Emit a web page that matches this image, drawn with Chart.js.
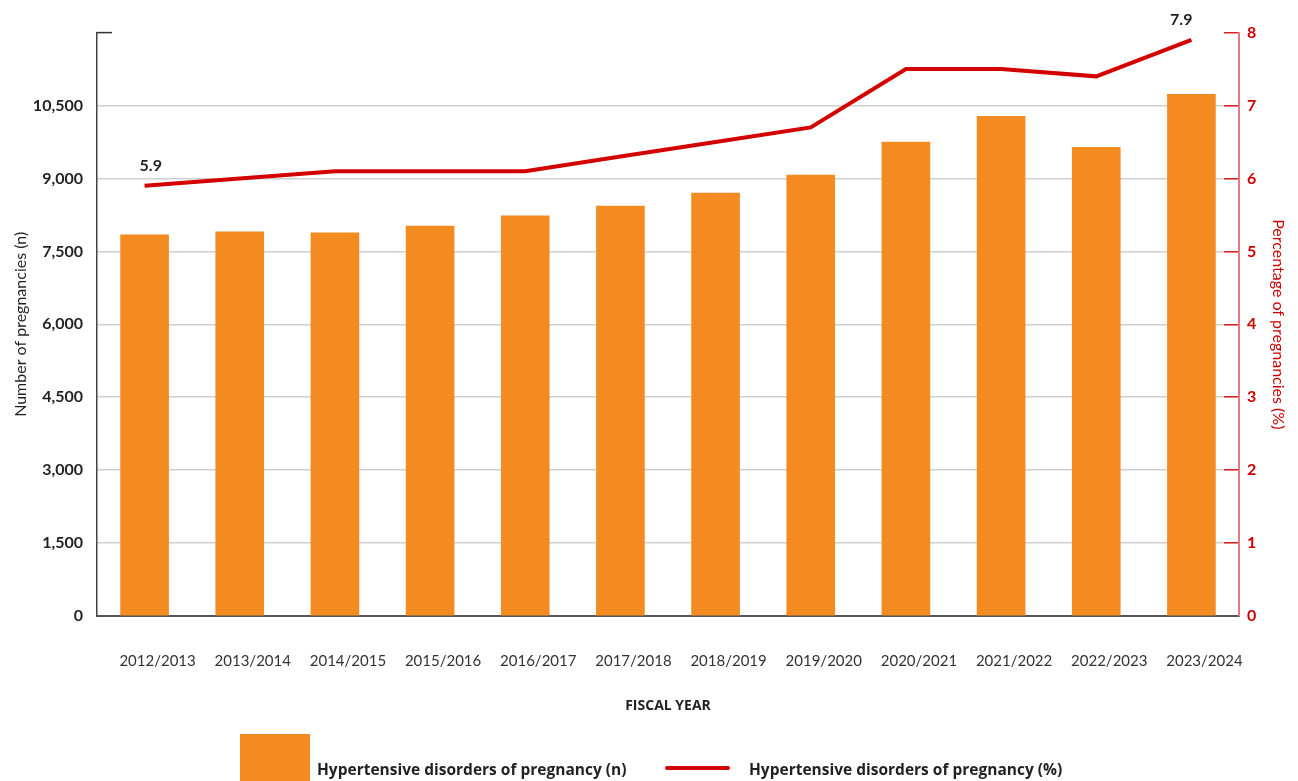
<!DOCTYPE html>
<html>
<head>
<meta charset="utf-8">
<script src="https://cdn.jsdelivr.net/npm/chart.js@4/dist/chart.umd.min.js"></script>
<style>
	body { margin: 0; background: #fff; }
	#wrap { position: relative; width: 1298px; height: 781px; font-family: Lato, 'Open Sans', sans-serif; color: #231f20; }
	#hdpChart { position: absolute; left: 0; top: 0; }
	.legend-box { position: absolute; left: 240px; top: 734px; width: 70px; height: 47px; background: #f48b21; }
	.legend-line { position: absolute; left: 665px; top: 766px; width: 65px; height: 4px; border-radius: 2px; background: #d40000; }
	.legend-text { position: absolute; top: 759px; font-family: 'Open Sans', sans-serif; font-size: 15.5px; font-weight: 700; line-height: 20px; white-space: nowrap; }
</style>
</head>
<body>
<div id="wrap">
	<canvas id="hdpChart" width="1298" height="781"></canvas>
	<div class="legend-box"></div>
	<div class="legend-text" style="left:317px">Hypertensive disorders of pregnancy (n)</div>
	<div class="legend-line"></div>
	<div class="legend-text" style="left:749px">Hypertensive disorders of pregnancy (%)</div>
</div>
<script>
const fiscalYears = ['2012/2013', '2013/2014', '2014/2015', '2015/2016', '2016/2017', '2017/2018',
	'2018/2019', '2019/2020', '2020/2021', '2021/2022', '2022/2023', '2023/2024'];
const pregnancyCounts = [7840, 7900, 7880, 8020, 8230, 8430, 8700, 9070, 9750, 10280, 9640, 10730];
const pregnancyPercent = [5.9, 6.0, 6.1, 6.1, 6.1, 6.3, 6.5, 6.7, 7.5, 7.5, 7.4, 7.9];
const countAxis = { min: 0, max: 12000, step: 1500 };
const percentAxis = { min: 0, max: 8, step: 1 };

const ORANGE = '#f48b21';
const RED = '#d40000';
const TEXT = '#231f20';
const FONT = "Lato, 'Open Sans', sans-serif";

// short cap at the top of the left axis
const topCap = {
	id: 'topCap',
	afterDraw(chart) {
		const { ctx, chartArea } = chart;
		ctx.save();
		ctx.strokeStyle = '#333';
		ctx.lineWidth = 1.5;
		ctx.beginPath();
		ctx.moveTo(chartArea.left, chartArea.top);
		ctx.lineTo(chartArea.left + 15, chartArea.top);
		ctx.stroke();
		ctx.restore();
	},
};

// value labels on the first and last points of the line
const endLabels = {
	id: 'endLabels',
	afterDatasetsDraw(chart) {
		const { ctx } = chart;
		const meta = chart.getDatasetMeta(0);
		const last = meta.data.length - 1;
		ctx.save();
		ctx.font = `700 16px ${FONT}`;
		ctx.fillStyle = TEXT;
		ctx.textBaseline = 'middle';
		[[0, 'left', -5], [last, 'right', 1]].forEach(([i, align, dx]) => {
			const pt = meta.data[i];
			ctx.textAlign = align;
			ctx.fillText(pregnancyPercent[i].toFixed(1), pt.x + dx, pt.y - 20);
		});
		ctx.restore();
	},
};

const data = {
	labels: fiscalYears,
	datasets: [
		{
			type: 'line',
			label: 'Hypertensive disorders of pregnancy (%)',
			data: pregnancyPercent,
			yAxisID: 'y1',
			borderColor: RED,
			borderWidth: 4,
			pointRadius: 0,
			tension: 0,
			fill: false,
			order: 0,
		},
		{
			type: 'bar',
			label: 'Hypertensive disorders of pregnancy (n)',
			data: pregnancyCounts,
			yAxisID: 'y',
			backgroundColor: ORANGE,
			barThickness: 48,
			order: 1,
		},
	],
};

const config = {
	data: data,
	plugins: [topCap, endLabels],
	options: {
		responsive: false,
		animation: false,
		layout: { padding: { top: 31, right: 0, bottom: 65, left: 0 } },
		plugins: {
			legend: { display: false },
			tooltip: { enabled: false },
		},
		scales: {
			x: {
				grid: { display: false },
				border: { display: true, color: '#555', width: 2 },
				ticks: {
					color: '#333',
					font: { family: FONT, size: 15 },
					padding: 28,
					labelOffset: 13,
					maxRotation: 0,
				},
				title: {
					display: true,
					text: 'FISCAL YEAR',
					color: TEXT,
					font: { family: "'Open Sans', sans-serif", size: 14, weight: '700' },
					padding: { top: 0, bottom: 2 },
				},
				afterFit: (s) => { s.height = 100; },
			},
			y: {
				position: 'left',
				min: countAxis.min,
				max: countAxis.max,
				grid: {
					drawTicks: false,
					lineWidth: 1.5,
					color: (c) => (c.tick && c.tick.value === countAxis.max ? 'rgba(0,0,0,0)' : '#d0d0d0'),
				},
				border: { display: true, color: '#444', width: 1.5 },
				ticks: {
					stepSize: countAxis.step,
					color: TEXT,
					padding: 14,
					font: { family: FONT, size: 16, weight: '700' },
					callback: (v) => (v === countAxis.max ? '' : v.toLocaleString('en-US')),
				},
				title: {
					display: true,
					text: 'Number of pregnancies (n)',
					color: TEXT,
					font: { family: FONT, size: 16 },
					padding: { top: 11, bottom: 0 },
				},
				afterFit: (s) => { s.width = 97; },
			},
			y1: {
				position: 'right',
				min: percentAxis.min,
				max: percentAxis.max,
				grid: {
					drawOnChartArea: false,
					drawTicks: true,
					tickLength: -15,
					color: '#d42020',
					lineWidth: 1.5,
				},
				border: { display: true, color: '#e27b7b', width: 2 },
				ticks: {
					stepSize: percentAxis.step,
					color: '#cc0000',
					padding: 23,
					font: { family: FONT, size: 16, weight: '700' },
				},
				title: {
					display: true,
					text: 'Percentage of pregnancies (%)',
					color: '#cc0000',
					font: { family: FONT, size: 16 },
					padding: { top: 10, bottom: 0 },
				},
				afterFit: (s) => { s.width = 59; },
			},
		},
	},
};

const ctx = document.getElementById('hdpChart').getContext('2d');
const hdpChart = new Chart(ctx, config);
</script>
</body>
</html>
